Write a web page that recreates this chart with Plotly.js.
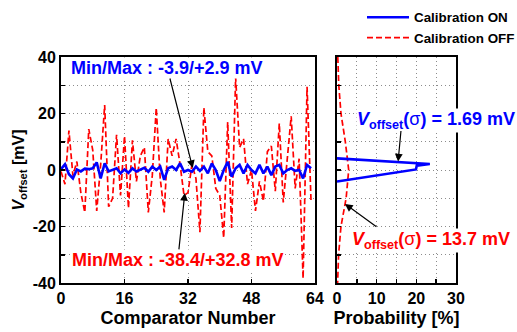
<!DOCTYPE html>
<html><head><meta charset="utf-8">
<script src="https://cdn.plot.ly/plotly-3.0.1.min.js"></script>
<style>html,body{margin:0;padding:0;background:#fff}#chart{width:517px;height:332px}</style>
</head><body><div id="chart"></div>
<script>
// ---- data ----
const comparatorNumber = [0,1,2,3,4,5,6,7,8,9,10,11,12,13,14,15,16,17,18,19,20,21,22,23,24,25,26,27,28,29,30,31,
  32,33,34,35,36,37,38,39,40,41,42,43,44,45,46,47,48,49,50,51,52,53,54,55,56,57,58,59,60,61,62,63];
const offsetCalOff = [-0.5,-5,14,-2,3,-8,-15,14.5,7,-14.5,2,23,-13,-10,12.5,-9,
  12,-13.5,10.5,-4,5,8,-15,-2,22,-3,-15,11,5,11,2,-9,
  -8,2,-3,-22,22,6.5,5,-6.5,-9,-24,17,-20.5,32.8,8,11,-5,
  0,-14.5,-4,-11,6.5,8.5,-7.5,16.5,-11.5,4,19,-6.5,4,-38.4,29.5,-11];
const offsetCalOn = [0.3,2.0,-1.5,-3.0,0.2,-0.5,0.5,0.3,0.6,2.7,-3.0,2.4,-0.5,0.0,0.6,-1.2,
  0.2,-1.0,0.6,-0.5,0.2,0.8,-0.6,1.2,0.0,1.2,-3.5,0.6,1.2,0.0,2.4,-0.6,
  0.0,-0.6,1.2,-0.3,1.2,-1.2,2.3,0.0,-3.9,0.0,2.9,-2.4,0.6,1.8,-1.2,1.8,
  0.0,-1.2,1.8,-1.2,1.2,-1.8,1.2,1.8,-1.2,0.0,0.6,-0.3,0.0,-3.0,1.8,0.6];
// histogram (probability density) curves
const histOnVoltage = [4.1, 2.1, 1.5, 0.2, -4.1];
const histOnProb    = [0, 23.4, 20.1, 19.9, 0];
const histOffVoltage = [40, 30, 20, 10, 0, -10, -20, -30, -40];
const histOffProb    = [0.2, 0.45, 1.0, 2.1, 2.95, 2.3, 1.0, 0.4, 0.15];
// tick labels
const xTickVals = [0,16,32,48,64];
const xTickText = ['0','16','32','48','64'];
const yTickVals = [-40,-20,0,20,40];
const yTickText = ['-40','-20','0','20','40'];
const pTickVals = [0,10,20,30];
const pTickText = ['0','10','20','30'];

// ---- styling ----
const FONT = 'Liberation Sans, Arial, sans-serif';
const BLUE = '#0000ff', RED = '#ff0000';
const GRID = '#8c8c8c', GDASH = '1px,3px';

const traces = [
  {x: comparatorNumber, y: offsetCalOff, type:'scatter', mode:'lines', name:'Calibration OFF',
   line:{color:RED, width:1.7, dash:'6px,3px'}, xaxis:'x', yaxis:'y', legendrank:2},
  {x: comparatorNumber, y: offsetCalOn, type:'scatter', mode:'lines', name:'Calibration ON',
   line:{color:BLUE, width:2.6}, xaxis:'x', yaxis:'y', legendrank:1},
  {x: histOffProb, y: histOffVoltage, type:'scatter', mode:'lines', showlegend:false,
   line:{color:RED, width:1.7, dash:'6px,3px'}, xaxis:'x2', yaxis:'y2'},
  {x: histOnProb, y: histOnVoltage, type:'scatter', mode:'lines', showlegend:false,
   line:{color:BLUE, width:2.6}, xaxis:'x2', yaxis:'y2'}
];

const axCommon = {
  showline:true, linecolor:'#000', linewidth:2, mirror:true,
  ticks:'inside', ticklen:4, tickwidth:1.5, tickcolor:'#000',
  showgrid:true, gridcolor:GRID, gridwidth:1, griddash:GDASH,
  zeroline:false, fixedrange:true, automargin:false,
  tickfont:{family:FONT, size:16, color:'#000', weight:'bold'}
};
const minorCommon = {ticks:'inside', ticklen:4, tickwidth:1.5, tickcolor:'#000',
  showgrid:true, gridcolor:GRID, gridwidth:1, griddash:GDASH};

const yDom = [1-283/332, 1-57/332];

const layout = {
  width:517, height:332, margin:{l:0,r:0,t:0,b:0, autoexpand:false},
  paper_bgcolor:'#fff', plot_bgcolor:'#fff',
  font:{family:FONT, size:16, color:'#000', weight:'bold'},
  showlegend:true,
  legend:{x:362/517, y:0.994, xanchor:'left', yanchor:'top', bgcolor:'rgba(0,0,0,0)',
    font:{family:FONT, size:13.4, color:'#000', weight:'bold'}, itemwidth:42, tracegroupgap:0},
  xaxis: Object.assign({}, axCommon, {domain:[61/517, 315/517], range:[0,64], anchor:'y',
    tickmode:'array', tickvals:xTickVals, ticktext:xTickText,
    title:{text:'Comparator Number', font:{family:FONT, size:18, weight:'bold'}, standoff:5}}),
  yaxis: Object.assign({}, axCommon, {domain:yDom, range:[-40,40], anchor:'x',
    tickmode:'array', tickvals:yTickVals, ticktext:yTickText,
    minor: Object.assign({}, minorCommon, {tickvals:[-30,-10,10,30]}),
    title:{text:'<i>V</i><sub>offset</sub> [mV]', font:{family:FONT, size:16, weight:'bold'}, standoff:4}}),
  xaxis2: Object.assign({}, axCommon, {domain:[337/517, 456/517], range:[0,30], anchor:'y2',
    tickmode:'array', tickvals:pTickVals, ticktext:pTickText,
    minor: Object.assign({}, minorCommon, {tickvals:[5,15,25]}),
    title:{text:'Probability [%]', font:{family:FONT, size:18, weight:'bold'}, standoff:5}}),
  yaxis2: Object.assign({}, axCommon, {domain:yDom, range:[-40,40], anchor:'x2',
    tickmode:'array', tickvals:[-30,-20,-10,0,10,20,30], showticklabels:false}),
  annotations: [
    {xref:'x', yref:'y', x:33.2, y:0.7, ax:-25.5, ay:-100, xanchor:'center', yanchor:'middle',
     text:'Min/Max : -3.9/+2.9 mV', showarrow:true, arrowhead:2, arrowsize:1.3, arrowwidth:1.2, arrowcolor:'#000',
     bgcolor:'#fff', borderpad:0,
     font:{family:FONT, size:18, color:BLUE, weight:'bold'}},
    {xref:'x', yref:'y', x:31.2, y:-8.1, ax:-7, ay:67, xanchor:'center', yanchor:'middle',
     text:'Min/Max : -38.4/+32.8 mV', showarrow:true, arrowhead:2, arrowsize:1.3, arrowwidth:1.2, arrowcolor:'#000',
     bgcolor:'#fff', borderpad:0,
     font:{family:FONT, size:18, color:RED, weight:'bold'}},
    {xref:'paper', yref:'paper', x:356/517, y:1-120/332, xanchor:'left', yanchor:'middle',
     text:'<i>V</i><sub>offset</sub>(<span style="font-weight:normal">σ</span>) = 1.69 mV', showarrow:false, bgcolor:'#fff', borderpad:0,
     font:{family:FONT, size:18, color:BLUE, weight:'bold'}},
    {xref:'paper', yref:'paper', x:351/517, y:1-240/332, xanchor:'left', yanchor:'middle',
     text:'<i>V</i><sub>offset</sub>(<span style="font-weight:normal">σ</span>) = 13.7 mV', showarrow:false, bgcolor:'#fff', borderpad:0,
     font:{family:FONT, size:18, color:RED, weight:'bold'}},
    {xref:'x2', yref:'y2', x:15.4, y:3.0, ax:3, ay:-32, text:'', showarrow:true,
     arrowhead:2, arrowsize:1.3, arrowwidth:1.2, arrowcolor:'#000'},
    {xref:'x2', yref:'y2', x:2.0, y:-12, ax:33, ay:24, text:'', showarrow:true,
     arrowhead:2, arrowsize:1.3, arrowwidth:1.2, arrowcolor:'#000'}
  ]
};

Plotly.newPlot('chart', traces, layout, {staticPlot:true, displayModeBar:false});
</script>
</body></html>
